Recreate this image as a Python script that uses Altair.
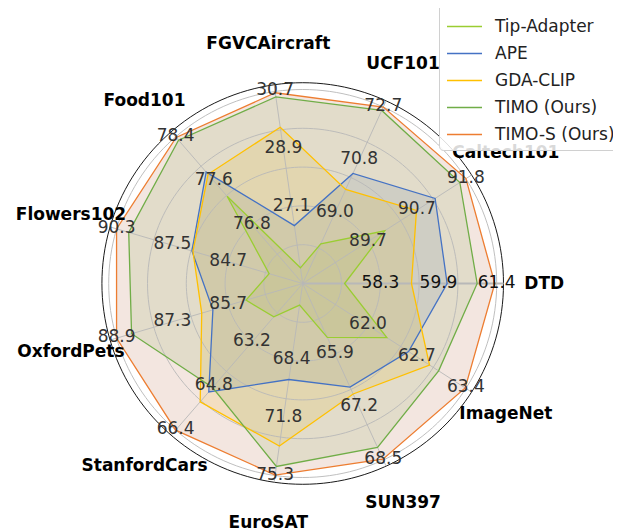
import altair as alt
import pandas as pd
import numpy as np

# ---------------- data ----------------
categories = ["DTD", "Caltech101", "UCF101", "FGVCAircraft", "Food101", "Flowers102",
              "OxfordPets", "StanfordCars", "EuroSAT", "SUN397", "ImageNet"]
tick_low = [58.3, 89.7, 69.0, 27.1, 76.8, 84.7, 85.7, 63.2, 68.4, 65.9, 62.0]
tick_mid = [59.9, 90.7, 70.8, 28.9, 77.6, 87.5, 87.3, 64.8, 71.8, 67.2, 62.7]
tick_high = [61.4, 91.8, 72.7, 30.7, 78.4, 90.3, 88.9, 66.4, 75.3, 68.5, 63.4]

methods = ["Tip-Adapter", "APE", "GDA-CLIP", "TIMO (Ours)", "TIMO-S (Ours)"]
tip_adapter = [57.35, 90.06, 67.92, 25.19, 77.32, 82.65, 85.19, 62.28, 65.09, 65.49, 62.27]
ape = [60.08, 91.14, 70.38, 26.51, 77.76, 86.52, 86.14, 65.01, 69.55, 66.71, 62.58]
gda_clip = [59.13, 90.74, 69.82, 29.58, 77.72, 86.47, 86.46, 65.37, 73.53, 66.88, 62.88]
timo = [60.88, 91.67, 72.58, 30.53, 78.34, 89.69, 88.47, 64.85, 74.76, 68.19, 63.01]
timo_s = [61.35, 91.80, 72.70, 30.66, 78.39, 90.30, 88.90, 66.40, 75.27, 68.48, 63.39]
series_values = [tip_adapter, ape, gda_clip, timo, timo_s]
colors = ["#9ACD32", "#4472C4", "#FFC000", "#70AD47", "#ED7D31"]
fill_colors = ["#9ACD32", "#4472C4", "#FFC000", "#70AD47", "#C38264"]
fill_opacity = [0.15, 0.15, 0.15, 0.15, 0.2]

# ---------------- layout constants ----------------
N = len(categories)
W, H = 605, 523
PX_PER_UNIT = 194.0
CX, CY = 294.7, 275.5          # centre inside the plot area (pixels)
X_DOM = [-CX / PX_PER_UNIT, (W - CX) / PX_PER_UNIT]
Y_DOM = [-(H - CY) / PX_PER_UNIT, CY / PX_PER_UNIT]
GRID_RINGS = [0.2, 0.4, 0.6, 0.8, 1.0]
FRAME_R = 1.035
LABEL_R = 1.245
FONT = "DejaVu Sans"

rows = []
for m, vals in zip(methods, series_values):
    for i, v in enumerate(vals):
        rows.append({"method": m, "idx": i, "value": v,
                     "lo": tick_low[i], "hi": tick_high[i]})
df = pd.DataFrame(rows)

tick_rows = []
for i in range(N):
    for p, tv in enumerate([tick_low[i], tick_mid[i], tick_high[i]]):
        tick_rows.append({"idx": i, "pos": p, "tv": tv})
ticks_df = pd.DataFrame(tick_rows)

cat_df = pd.DataFrame({"idx": list(range(N)), "cat": categories})

ring_rows = []
for r in GRID_RINGS + [FRAME_R]:
    for d in range(0, 361, 2):
        ring_rows.append({"ring": r, "deg": d, "frame": r == FRAME_R})
ring_df = pd.DataFrame(ring_rows)

xs = alt.Scale(domain=X_DOM, nice=False, zero=False)
ys = alt.Scale(domain=Y_DOM, nice=False, zero=False)
X = alt.X("x:Q", scale=xs, axis=None)
Y = alt.Y("y:Q", scale=ys, axis=None)

ANG = f"datum.idx * 2 * PI / {N}"

series_base = alt.Chart(df).transform_calculate(
    r="0.4 + 0.6 * (datum.value - datum.lo) / (datum.hi - datum.lo)",
    ang=ANG,
).transform_calculate(
    x="datum.r * cos(datum.ang)", y="datum.r * sin(datum.ang)"
)

fill_layers = []
for m, fc, fo in zip(methods, fill_colors, fill_opacity):
    fill_layers.append(
        series_base.transform_filter(alt.datum.method == m)
        .mark_line(interpolate="linear-closed", fill=fc, fillOpacity=fo, strokeOpacity=0)
        .encode(x=X, y=Y, order=alt.Order("idx:Q"))
    )

lines = series_base.mark_line(interpolate="linear-closed", strokeWidth=1.3).encode(
    x=X, y=Y,
    color=alt.Color(
        "method:N",
        scale=alt.Scale(domain=methods, range=colors),
        legend=alt.Legend(
            title=None, orient="none", legendX=431, legendY=-7,
            labelFont=FONT, labelFontSize=17, labelColor="#222",
            symbolType="stroke", symbolSize=1225, symbolStrokeWidth=1.5,
            rowPadding=-4, padding=7, labelOffset=12,
            fillColor="rgba(255,255,255,0.85)", strokeColor="#d0d0d0", cornerRadius=4,
        ),
    ),
    detail="method:N",
    order=alt.Order("idx:Q"),
)

rings = alt.Chart(ring_df).transform_calculate(
    x="datum.ring * cos(datum.deg * PI / 180)",
    y="datum.ring * sin(datum.deg * PI / 180)",
).mark_line(strokeWidth=0.9).encode(
    x=X, y=Y, detail="ring:N", order=alt.Order("deg:Q"),
    stroke=alt.condition("datum.frame", alt.value("#000000"), alt.value("#b8b8b8")),
)

spokes = alt.Chart(cat_df).transform_calculate(
    ang=ANG,
).transform_calculate(
    x="0", y="0",
    x2=f"{FRAME_R} * cos(datum.ang)", y2=f"{FRAME_R} * sin(datum.ang)",
).mark_rule(stroke="#b8b8b8").encode(
    x=X, y=Y, x2="x2:Q", y2="y2:Q",
    strokeWidth=alt.condition("datum.idx == 0", alt.value(2), alt.value(0.9)),
)

tick_text = alt.Chart(ticks_df).transform_calculate(
    ang=ANG, r="0.4 + 0.3 * datum.pos",
).transform_calculate(
    x="datum.r * cos(datum.ang)", y="datum.r * sin(datum.ang)"
).mark_text(font=FONT, fontSize=17, baseline="middle", align="center", dy=-1).encode(
    x=X, y=Y, text=alt.Text("tv:Q", format=".1f"),
    fill=alt.condition("datum.idx == 0", alt.value("#111111"), alt.value("#333333")),
)

cat_text = alt.Chart(cat_df).transform_calculate(
    ang=ANG,
).transform_calculate(
    x=f"{LABEL_R} * cos(datum.ang)", y=f"{LABEL_R} * sin(datum.ang)"
).mark_text(font=FONT, fontSize=17, fontWeight="bold", fill="black",
            baseline="middle", align="center").encode(
    x=X, y=Y, text="cat:N",
)

chart = alt.layer(*fill_layers, rings, spokes, lines, tick_text, cat_text).properties(
    width=W, height=H, padding=0, autosize="none",
).configure_view(stroke=None)

chart.save("out.html", embed_options={"renderer": "svg", "actions": False})
